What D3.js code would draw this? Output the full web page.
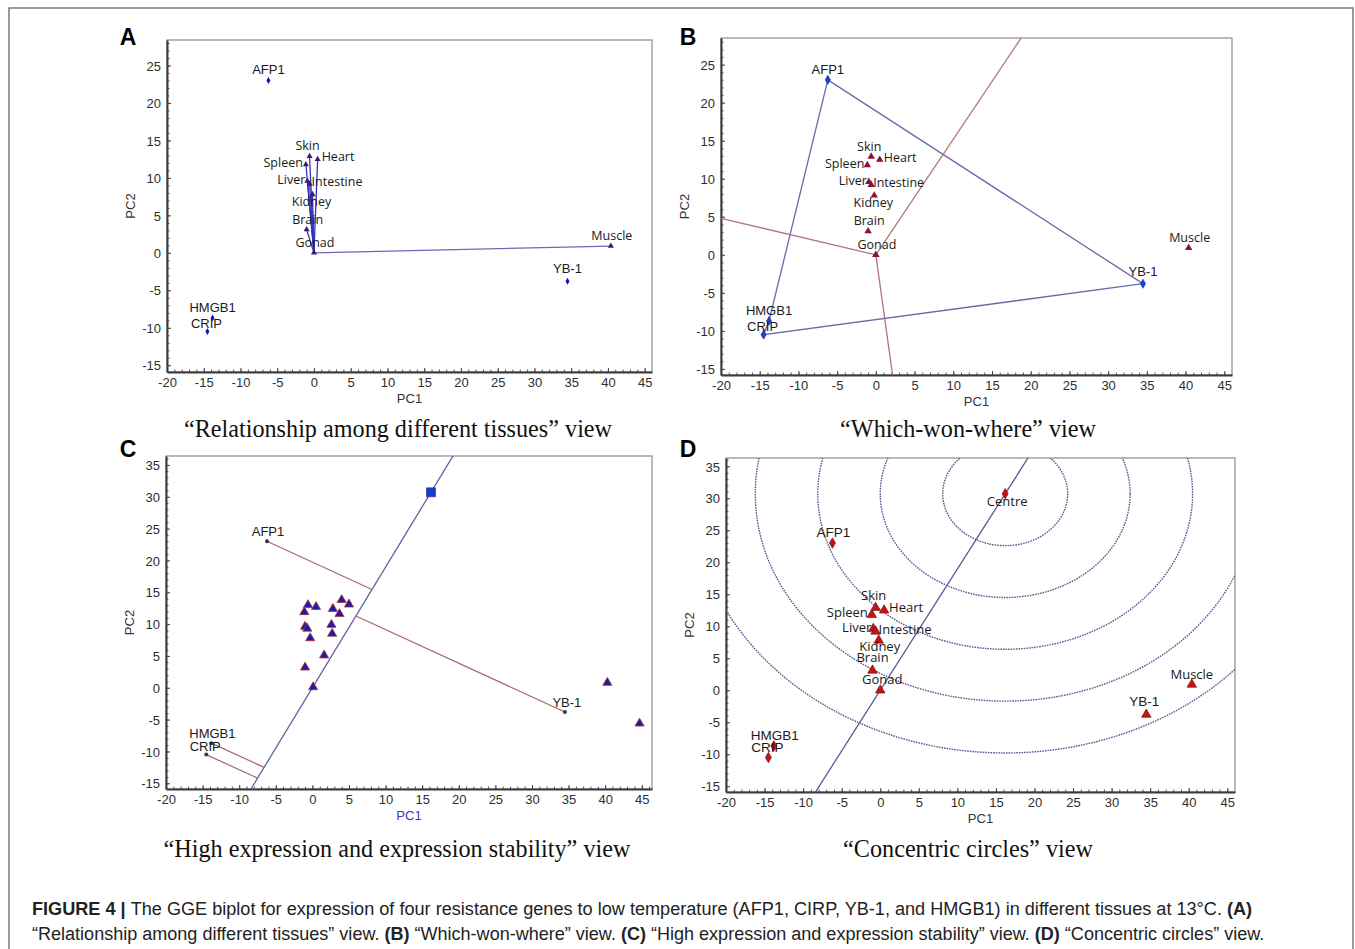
<!DOCTYPE html>
<html><head><meta charset="utf-8">
<script src="https://cdn.jsdelivr.net/npm/d3@7"></script>
<style>body{margin:0;background:#fff}</style>
</head><body>
<svg id="fig" width="1355" height="949"></svg>
<script>
// ---------------- DATA ----------------
const geneNames = ["AFP1", "HMGB1", "CRIP", "YB-1"];
const genePC1 = [-6.2, -13.8, -14.5, 34.5];
const genePC2 = [23.0, -8.7, -10.5, -3.8];

const tissueNames = ["Skin", "Heart", "Spleen", "Liver", "Intestine", "Kidney", "Brain", "Gonad", "Muscle"];
const tissuePC1 = [-0.6, 0.5, -1.1, -0.9, -0.6, -0.2, -1.0, 0.0, 40.4];
const tissuePC2 = [12.9, 12.5, 11.8, 9.6, 9.2, 7.8, 3.1, 0.0, 0.9];

const centreName = "Centre";
const centrePC1 = 16.2;
const centrePC2 = 30.7;

const hullOrder = ["AFP1", "YB-1", "CRIP", "HMGB1"];
const sectorEdges = [["AFP1", "YB-1"], ["HMGB1", "AFP1"], ["YB-1", "CRIP"]];
const circleRadii = [8.1, 16.2, 24.3, 32.4, 40.5];

// panel C triangles
const viewCPC1 = [-1.1, -0.6, 0.5, 2.8, 4.0, 5.0, 3.7, 2.6, 2.7, -1.0, -0.7, -0.3, 1.6, -1.0, 0.1, 40.3, 44.7];
const viewCPC2 = [11.9, 13.0, 12.7, 12.4, 13.8, 13.1, 11.6, 9.9, 8.5, 9.6, 9.3, 7.8, 5.1, 3.2, 0.1, 0.8, -5.6];

const xTickValues = [-20, -15, -10, -5, 0, 5, 10, 15, 20, 25, 30, 35, 40, 45];
const yTickValuesAB = [-15, -10, -5, 0, 5, 10, 15, 20, 25];
const yTickValuesCD = [-15, -10, -5, 0, 5, 10, 15, 20, 25, 30, 35];

const subtitles = ["“Relationship among different tissues” view", "“Which-won-where” view",
  "“High expression and expression stability” view", "“Concentric circles” view"];

// ---------------- LAYOUT / STYLE ----------------
const svg = d3.select("#fig");
const genes = geneNames.map((n, i) => ({name: n, x: genePC1[i], y: genePC2[i]}));
const tissues = tissueNames.map((n, i) => ({name: n, x: tissuePC1[i], y: tissuePC2[i]}));
const byName = Object.fromEntries(genes.concat(tissues).map(d => [d.name, d]));

const panels = {
  A: {left: 167, right: 652, top: 40, bottom: 372, xd: [-20, 46], yd: [-15.9, 28.4], yt: yTickValuesAB, lx: 128, ly: 45, sx: 398, sy: 437},
  B: {left: 721, right: 1232, top: 38, bottom: 375, xd: [-20, 46], yd: [-15.8, 28.5], yt: yTickValuesAB, lx: 688, ly: 45, sx: 968, sy: 437},
  C: {left: 166, right: 652, top: 456, bottom: 789, xd: [-20, 46.4], yd: [-15.9, 36.4], yt: yTickValuesCD, lx: 128, ly: 457, sx: 397, sy: 857, pc1Color: "#3a3ab8"},
  D: {left: 726, right: 1235, top: 458, bottom: 792, xd: [-20, 46], yd: [-15.9, 36.3], yt: yTickValuesCD, lx: 688, ly: 457, sx: 968, sy: 857}
};

const labAB = {AFP1: [0, -6, "middle"], HMGB1: [0, -6, "middle"], CRIP: [-1, -4, "middle"], "YB-1": [0, -8, "middle"],
  Skin: [-2, -6, "middle"], Heart: [4, 2, "start"], Spleen: [-3, 3, "end"], Liver: [-2, 3, "end"],
  Intestine: [2, 2, "start"], Kidney: [-1, 12, "middle"], Brain: [1, -6, "middle"], Gonad: [1, -6, "middle"], Muscle: [1, -6, "middle"]};
const labD = {AFP1: [1, -6, "middle"], HMGB1: [1, -6, "middle"], CRIP: [-1, -5, "middle"], "YB-1": [-2, -9, "middle"],
  Skin: [-2, -8, "middle"], Heart: [5, 2, "start"], Spleen: [-4, 2, "end"], Liver: [-2, 3, "end"],
  Intestine: [3, 3, "start"], Kidney: [1, 11, "middle"], Brain: [0, -8, "middle"], Gonad: [2, -6, "middle"], Muscle: [0, -6, "middle"],
  Centre: [2, 12, "middle"]};
const labC = {AFP1: [1, -5, "middle"], HMGB1: [1, -5, "middle"], CRIP: [-1, -4, "middle"], "YB-1": [2, -5, "middle"]};

function makePanel(key, p) {
  const g = svg.append("g");
  const x = d3.scaleLinear().domain(p.xd).range([p.left, p.right]);
  const y = d3.scaleLinear().domain(p.yd).range([p.bottom, p.top]);
  g.append("rect").attr("x", p.left).attr("y", p.top).attr("width", p.right - p.left).attr("height", p.bottom - p.top)
    .attr("fill", "#fff").attr("stroke", "#8c8c8c").attr("stroke-width", 1.2);
  svg.append("clipPath").attr("id", "clip" + key).append("rect")
    .attr("x", p.left).attr("y", p.top).attr("width", p.right - p.left).attr("height", p.bottom - p.top);

  // minor ticks
  const minX = g.append("g").attr("transform", `translate(0,${p.bottom})`)
    .call(d3.axisBottom(x).tickValues(d3.range(-20, p.xd[1], 1)).tickSize(-2.5).tickFormat(""));
  minX.select(".domain").remove();
  minX.selectAll("line").attr("stroke", "#555");
  const minY = g.append("g").attr("transform", `translate(${p.left},0)`)
    .call(d3.axisLeft(y).tickValues(d3.range(-15, p.yd[1], 1)).tickSize(-2.5).tickFormat(""));
  minY.select(".domain").remove();
  minY.selectAll("line").attr("stroke", "#555");

  const fmt = d => String(d);
  const ax = g.append("g").attr("transform", `translate(0,${p.bottom})`)
    .call(d3.axisBottom(x).tickValues(xTickValues).tickFormat(fmt).tickSizeInner(-4).tickSizeOuter(0).tickPadding(6));
  const ay = g.append("g").attr("transform", `translate(${p.left},0)`)
    .call(d3.axisLeft(y).tickValues(p.yt).tickFormat(fmt).tickSizeInner(-4).tickSizeOuter(0).tickPadding(6));
  [ax, ay].forEach(a => {
    a.select(".domain").attr("stroke", "#3a3a3a").attr("stroke-width", 2);
    a.selectAll("line").attr("stroke", "#444");
    a.selectAll("text").attr("font-family", "Liberation Sans, Arial, sans-serif").attr("font-size", 13).attr("fill", "#2e2e2e");
  });
  ay.selectAll("text").attr("dy", "0.36em");

  g.append("text").attr("x", (p.left + p.right) / 2).attr("y", p.bottom + 31).attr("text-anchor", "middle")
    .attr("font-family", "Liberation Sans, Arial, sans-serif").attr("font-size", 13).attr("fill", p.pc1Color || "#333").text("PC1");
  g.append("text").attr("transform", `translate(${p.left - 32},${(p.top + p.bottom) / 2}) rotate(-90)`).attr("text-anchor", "middle")
    .attr("font-family", "Liberation Sans, Arial, sans-serif").attr("font-size", 13).attr("fill", "#333").text("PC2");

  svg.append("text").attr("x", p.lx).attr("y", p.ly).attr("text-anchor", "middle")
    .attr("font-family", "Liberation Sans, Arial, sans-serif").attr("font-weight", "bold").attr("font-size", 23).attr("fill", "#000").text(key);

  const plot = g.append("g").attr("clip-path", `url(#clip${key})`);
  return {g, plot, x, y};
}

function labels(layer, pts, x, y, offs, fam, size) {
  layer.selectAll(null).data(pts.filter(d => offs[d.name])).join("text")
    .attr("x", d => x(d.x) + offs[d.name][0]).attr("y", d => y(d.y) + offs[d.name][1])
    .attr("text-anchor", d => offs[d.name][2])
    .attr("font-family", d => geneNames.includes(d.name) ? "Liberation Sans, Arial, sans-serif" : fam)
    .attr("font-size", d => geneNames.includes(d.name) ? size + 0.5 : size).attr("fill", "#1a1a1a").text(d => d.name);
}
function sym(type, size) { return d3.symbol().type(type).size(size)(); }
const tissueFont = "Open Sans, Noto Sans, sans-serif";

// outer frame
svg.append("rect").attr("x", 9).attr("y", 8).attr("width", 1344).attr("height", 980)
  .attr("fill", "none").attr("stroke", "#666").attr("stroke-width", 1.3);

// ---------- Panel A ----------
{
  const {plot, x, y} = makePanel("A", panels.A);
  plot.selectAll(null).data(tissues).join("line")
    .attr("x1", x(0)).attr("y1", y(0)).attr("x2", d => x(d.x)).attr("y2", d => y(d.y))
    .attr("stroke", d => d.name === "Muscle" ? "#6a6abc" : "#3434b8").attr("stroke-width", 1.3);
  plot.selectAll(null).data(tissues).join("path").attr("d", sym(d3.symbolTriangle, 16))
    .attr("transform", d => `translate(${x(d.x)},${y(d.y)})`).attr("fill", "#3e1a72");
  plot.selectAll(null).data(genes).join("path").attr("d", sym(d3.symbolDiamond, 14))
    .attr("transform", d => `translate(${x(d.x)},${y(d.y)})`).attr("fill", "#1414c0");
  labels(svg.append("g"), genes.concat(tissues), x, y, labAB, tissueFont, 12.5);
}

// ---------- Panel B ----------
{
  const {plot, x, y} = makePanel("B", panels.B);
  const hull = hullOrder.map(n => byName[n]);
  plot.append("path").datum(hull)
    .attr("d", d3.line().x(d => x(d.x)).y(d => y(d.y)).curve(d3.curveLinearClosed))
    .attr("fill", "none").attr("stroke", "#6a6aaa").attr("stroke-width", 1.3);
  sectorEdges.forEach(([a, b]) => {
    const P = byName[a], Q = byName[b];
    const dx = Q.x - P.x, dy = Q.y - P.y, L = Math.hypot(dx, dy);
    const ux = dx / L, uy = dy / L;
    const t = -(P.x * ux + P.y * uy);
    const fx = P.x + t * ux, fy = P.y + t * uy;
    const fl = Math.hypot(fx, fy);
    plot.append("line").attr("x1", x(0)).attr("y1", y(0))
      .attr("x2", x(fx / fl * 200)).attr("y2", y(fy / fl * 200))
      .attr("stroke", "#b07878").attr("stroke-width", 1.3);
  });
  plot.selectAll(null).data(tissues).join("path").attr("d", sym(d3.symbolTriangle, 24))
    .attr("transform", d => `translate(${x(d.x)},${y(d.y)})`).attr("fill", "#8c1234");
  plot.selectAll(null).data(genes).join("path").attr("d", sym(d3.symbolDiamond, 24))
    .attr("transform", d => `translate(${x(d.x)},${y(d.y)})`).attr("fill", "#1f3fd8").attr("stroke", "#10208a").attr("stroke-width", 0.5);
  labels(svg.append("g"), genes.concat(tissues), x, y, labAB, tissueFont, 12.5);
}

// ---------- Panel C ----------
{
  const {plot, x, y} = makePanel("C", panels.C);
  const L = Math.hypot(centrePC1, centrePC2), ux = centrePC1 / L, uy = centrePC2 / L;
  plot.append("line").attr("x1", x(-ux * 100)).attr("y1", y(-uy * 100)).attr("x2", x(ux * 100)).attr("y2", y(uy * 100))
    .attr("stroke", "#62629c").attr("stroke-width", 1.3);
  genes.forEach(d => {
    const t = d.x * ux + d.y * uy;
    plot.append("line").attr("x1", x(d.x)).attr("y1", y(d.y)).attr("x2", x(t * ux)).attr("y2", y(t * uy))
      .attr("stroke", "#a86868").attr("stroke-width", 1.2);
  });
  const tri = viewCPC1.map((v, i) => ({x: v, y: viewCPC2[i]}));
  plot.selectAll(null).data(tri).join("path").attr("d", sym(d3.symbolTriangle, 36))
    .attr("transform", d => `translate(${x(d.x)},${y(d.y)})`).attr("fill", "#1c1caa").attr("stroke", "#b43030").attr("stroke-width", 0.8);
  plot.append("path").attr("d", sym(d3.symbolSquare, 80))
    .attr("transform", `translate(${x(centrePC1)},${y(centrePC2)})`).attr("fill", "#1a3ad4").attr("stroke", "#10208a").attr("stroke-width", 0.6);
  plot.selectAll(null).data(genes).join("circle").attr("cx", d => x(d.x)).attr("cy", d => y(d.y)).attr("r", 2)
    .attr("fill", "#33334e");
  labels(svg.append("g"), genes, x, y, labC, tissueFont, 12.5);
}

// ---------- Panel D ----------
{
  const {plot, x, y} = makePanel("D", panels.D);
  const L = Math.hypot(centrePC1, centrePC2), ux = centrePC1 / L, uy = centrePC2 / L;
  plot.selectAll(null).data(circleRadii).join("ellipse")
    .attr("cx", x(centrePC1)).attr("cy", y(centrePC2))
    .attr("rx", r => x(r) - x(0)).attr("ry", r => y(0) - y(r))
    .attr("fill", "none").attr("stroke", "#5a5a90").attr("stroke-width", 1.4).attr("stroke-dasharray", "1.6,1");
  plot.append("line").attr("x1", x(-ux * 100)).attr("y1", y(-uy * 100)).attr("x2", x(ux * 100)).attr("y2", y(uy * 100))
    .attr("stroke", "#5a5a92").attr("stroke-width", 1.3);
  const dTri = tissues.concat([byName["YB-1"]]);
  const dDia = genes.filter(d => d.name !== "YB-1").concat([{name: centreName, x: centrePC1, y: centrePC2}]);
  plot.selectAll(null).data(dTri).join("path").attr("d", sym(d3.symbolTriangle, 40))
    .attr("transform", d => `translate(${x(d.x)},${y(d.y)})`).attr("fill", "#cc1010").attr("stroke", "#5a1010").attr("stroke-width", 0.6);
  plot.selectAll(null).data(dDia).join("path").attr("d", sym(d3.symbolDiamond, 32))
    .attr("transform", d => `translate(${x(d.x)},${y(d.y)})`).attr("fill", "#cc1010").attr("stroke", "#5a1010").attr("stroke-width", 0.6);
  labels(svg.append("g"), dTri.concat(dDia), x, y, labD, tissueFont, 13);
}

// subtitles
["A", "B", "C", "D"].forEach((k, i) => {
  svg.append("text").attr("x", panels[k].sx).attr("y", panels[k].sy).attr("text-anchor", "middle")
    .attr("font-family", "Liberation Serif, Times New Roman, serif").attr("font-size", 24.2).attr("fill", "#111").text(subtitles[i]);
});

// caption
const capFont = "Liberation Sans, Arial, sans-serif";
const cap1 = [["FIGURE 4 | ", true], ["The GGE biplot for expression of four resistance genes to low temperature (AFP1, CIRP, YB-1, and HMGB1) in different tissues at 13°C. ", false], ["(A)", true]];
const cap2 = [["“Relationship among different tissues” view. ", false], ["(B)", true], [" “Which-won-where” view. ", false], ["(C)", true],
  [" “High expression and expression stability” view. ", false], ["(D)", true], [" “Concentric circles” view.", false]];
[[cap1, 915, 1221], [cap2, 940, 1233]].forEach(([parts, yy, w]) => {
  const t = svg.append("text").attr("x", 32).attr("y", yy).attr("font-family", capFont).attr("font-size", 16).attr("fill", "#222");
  parts.forEach(([s, b]) => t.append("tspan").attr("font-weight", b ? "bold" : "normal").text(s));
  const len = t.node().getComputedTextLength();
  t.attr("font-size", 16 * w / len);
});
</script>
</body></html>
